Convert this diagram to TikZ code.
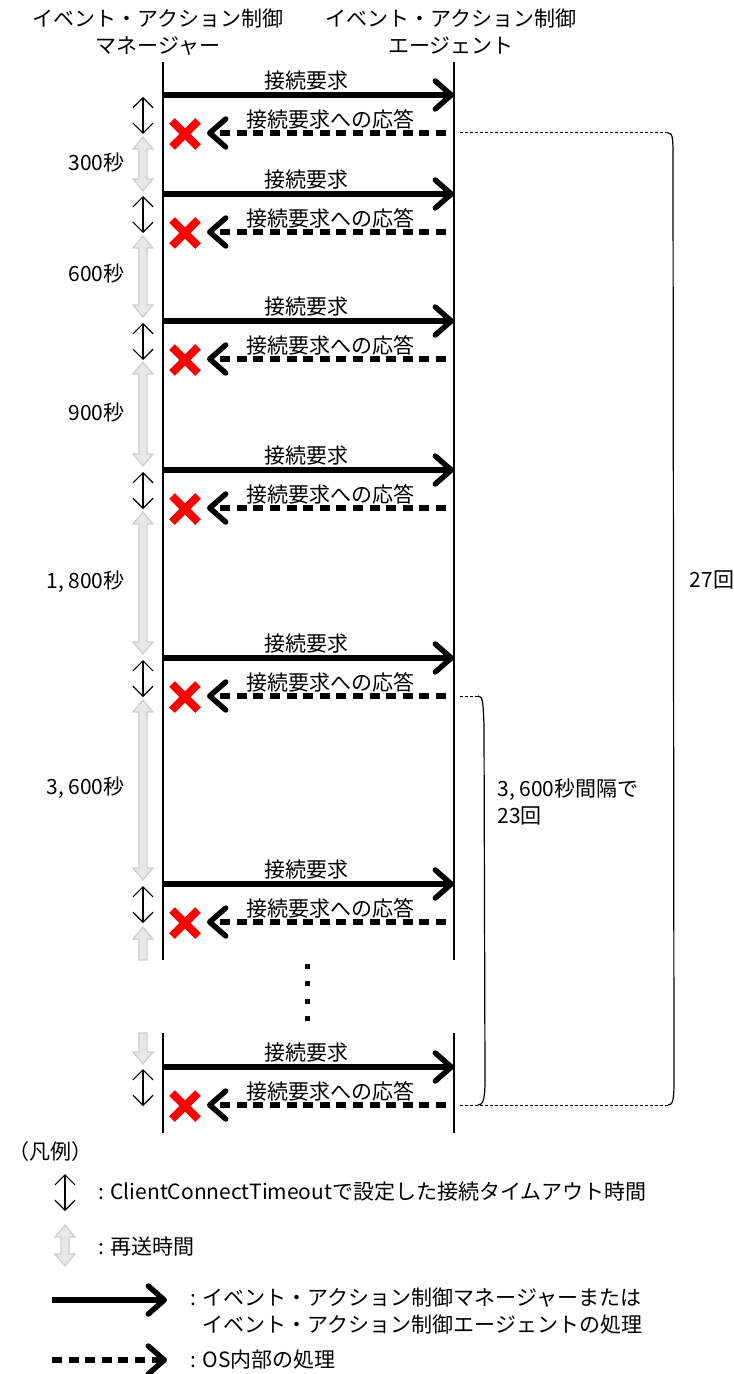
\documentclass[tikz,border=0pt]{standalone}
\usepackage{fontspec}
\setmainfont{Noto Sans CJK JP}
\usetikzlibrary{arrows.meta,calc}
\definecolor{retrygray}{RGB}{232,232,232}
\definecolor{retryedge}{RGB}{205,205,205}
\definecolor{xred}{RGB}{255,0,0}

\tikzset{
    req/.style={line width=2.7pt,-{Straight Barb[length=8pt,width=14pt,round]}},
    resp/.style={req,dash pattern=on 5pt off 3.3pt},
    tmo/.style={line width=0.6pt,{Straight Barb[length=5pt,width=10pt]}-{Straight Barb[length=5pt,width=10pt]}},
    retry/.style={fill=retrygray,draw=retryedge,line width=0.6pt},
    xmark/.style={xred,line width=4pt},
    life/.style={line width=1pt},
    brk/.style={line width=0.6pt},
    dots/.style={line width=0.5pt,dash pattern=on 1.5pt off 1pt},
}

\begin{document}
\begin{tikzpicture}[x=0.5pt,y=-0.5pt,font=\fontsize{10.5pt}{13.5pt}\selectfont,inner sep=0pt]
    \useasboundingbox (0,0) rectangle (733,1374);

    \node[align=center] (mgr) at (158,32) {イベント・アクション制御\\マネージャー};
    \node[align=center] (agt) at (451,32) {イベント・アクション制御\\エージェント};

    \draw[life] (163,62) -- (163,960) (163,1033) -- (163,1133);
    \draw[life] (454,62) -- (454,960) (454,1033) -- (454,1133);

    \foreach \i/\y in {1/95,2/194,3/321,4/470,5/658,6/884,7/1067} {
        \coordinate (m\i) at (163,\y);
        \coordinate (a\i) at (454,\y);
        \coordinate (mr\i) at (163,\y+38);
        \coordinate (ar\i) at (454,\y+38);
        \coordinate (x\i) at (207,\y+38);
        \draw[req] (m\i) -- (a\i);
        \node (q\i) at (306,\y-14) {接続要求};
        \draw[resp] ($(ar\i)+(-8,0)$) -- (x\i);
        \node (r\i) at (330,\y+24) {接続要求への応答};
        \draw[xmark] (172,\y+26) -- (198,\y+52) (172,\y+52) -- (198,\y+26);
        \draw[tmo] ($(m\i)+(-20,2)$) -- ($(mr\i)+(-20,1)$);
    }

    \foreach \t/\b in {137/191,236/317,362/466,512/654,700/880}
        \filldraw[retry] (143,\t) -- ++(10,12) -- ++(-6,0) -- (147,\b-12) -- ++(6,0) -- (143,\b)
            -- ++(-10,-12) -- ++(6,0) -- (139,\t+12) -- ++(-6,0) -- cycle;
    \filldraw[retry] (143,927) -- ++(10,12) -- ++(-6,0) -- (147,960) -- (139,960) -- (139,939) -- ++(-6,0) -- cycle;
    \filldraw[retry] (143,1064) -- ++(10,-12) -- ++(-6,0) -- (147,1033) -- (139,1033) -- (139,1052) -- ++(-6,0) -- cycle;

    \foreach \n/\y/\s in {t1/163/300秒,t2/274/600秒,t3/413/900秒,t4/582/{1, 800秒},t5/788/{3, 600秒}}
        \node[anchor=east] (\n) at (125,\y) {\s};

    \foreach \y in {966,983.5,1001,1018}
        \fill (304.5,\y-2.5) rectangle ++(5,5);

    \coordinate (b1) at (668,133);
    \coordinate (b2) at (668,1105);
    \coordinate (c1) at (478,696);
    \coordinate (c2) at (478,1105);
    \draw[dots] ($(ar1)+(6,0)$) -- (b1);
    \draw[dots] ($(ar7)+(6,0)$) -- (b2);
    \draw[dots] ($(ar5)+(6,0)$) -- (c1);
    \draw[brk] (b1) .. controls (673,133) and (673,138) .. (673,160) -- (674,1080) .. controls (674,1100) and (673,1105) .. (b2);
    \draw[brk] (c1) .. controls (483,696) and (483,702) .. (484,725) -- (485,1080) .. controls (485,1100) and (483,1105) .. (c2);
    \node (n27) at (712,580) {27回};
    \node[anchor=north west,align=left] (n23) at (497,778) {3, 600秒間隔で\\23回};

    \node[anchor=west] (leg) at (8,1152) {（凡例）};
    \coordinate (l1) at (65,1174);
    \coordinate (l2) at (65,1211);
    \draw[tmo] (l1) -- (l2);
    \node[anchor=west] (lt1) at (98,1192) {: ClientConnectTimeoutで設定した接続タイムアウト時間};
    \filldraw[retry] (65,1225) -- ++(10,12) -- ++(-6,0) -- (69,1254) -- ++(6,0) -- (65,1266)
        -- ++(-10,-12) -- ++(6,0) -- (61,1237) -- ++(-6,0) -- cycle;
    \node[anchor=west] (lt2) at (98,1247) {: 再送時間};
    \coordinate (l3) at (52,1300);
    \coordinate (l4) at (167,1300);
    \draw[req] (l3) -- (l4);
    \node[anchor=west,align=left] (lt3) at (190,1311) {: イベント・アクション制御マネージャーまたは\\\phantom{: }イベント・アクション制御エージェントの処理};
    \coordinate (l5) at (52,1360);
    \coordinate (l6) at (167,1360);
    \draw[resp] (l5) -- (l6);
    \node[anchor=west] (lt4) at (190,1360) {: OS内部の処理};
\end{tikzpicture}
\end{document}
